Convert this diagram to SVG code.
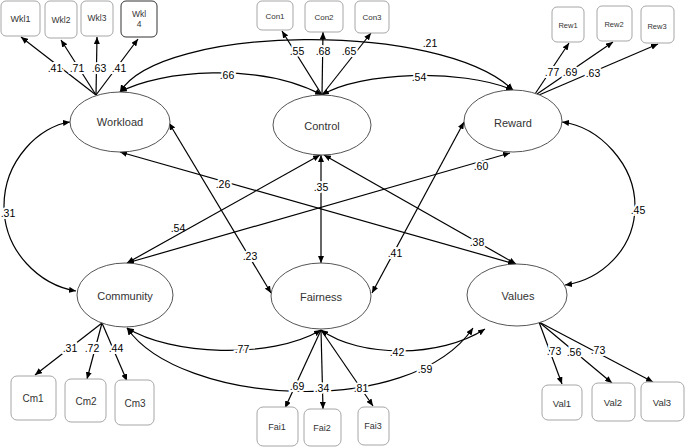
<svg xmlns="http://www.w3.org/2000/svg" width="685" height="447" viewBox="0 0 685 447">
<style>
.bg{fill:#fff}
.lat{fill:#fff;stroke:#555;stroke-width:1}
.box{fill:#fff;stroke:#a6a6a6;stroke-width:1}
.box.dark{stroke:#333}
.ln{fill:none;stroke:#000;stroke-width:1.2}
.one{marker-end:url(#ah)}
.two{marker-start:url(#ah);marker-end:url(#ah)}
.lt{font-family:"Liberation Sans","DejaVu Sans",sans-serif;font-size:11px;fill:#333;text-anchor:middle;dominant-baseline:central}
.bt{font-family:"Liberation Sans","DejaVu Sans",sans-serif;fill:#333;text-anchor:middle;dominant-baseline:central}
.lbl{font-family:"Liberation Sans","DejaVu Sans",sans-serif;font-size:10.5px;fill:#000;text-anchor:middle;dominant-baseline:central;stroke:#fff;stroke-width:4;paint-order:stroke}
.nh{stroke:none}
</style>
<defs>
<marker id="ah" viewBox="0 0 7 6" refX="7" refY="3" markerWidth="7" markerHeight="6" markerUnits="userSpaceOnUse" orient="auto-start-reverse">
<path d="M0,0 L7,3 L0,6 z" fill="#000"/>
</marker>
</defs>
<rect class="bg" x="0" y="0" width="685" height="447"/>

<g id="connectors">
<!-- indicator loadings -->
<line class="ln one" x1="96" y1="95" x2="21" y2="37"/>
<line class="ln one" x1="96" y1="95" x2="61" y2="40"/>
<line class="ln one" x1="96" y1="95" x2="97" y2="37"/>
<line class="ln one" x1="96" y1="95" x2="138" y2="39"/>
<line class="ln one" x1="322" y1="95" x2="282" y2="31"/>
<line class="ln one" x1="322" y1="95" x2="323" y2="32"/>
<line class="ln one" x1="322" y1="95" x2="371" y2="33"/>
<line class="ln one" x1="535" y1="94" x2="569" y2="43"/>
<line class="ln one" x1="537" y1="94" x2="613" y2="42"/>
<line class="ln one" x1="539" y1="95" x2="658" y2="44"/>
<line class="ln one" x1="102" y1="323" x2="35" y2="375"/>
<line class="ln one" x1="102" y1="323" x2="87" y2="379"/>
<line class="ln one" x1="102" y1="323" x2="127" y2="381"/>
<line class="ln one" x1="321" y1="330" x2="285" y2="408"/>
<line class="ln one" x1="321" y1="330" x2="323" y2="409"/>
<line class="ln one" x1="321" y1="330" x2="373" y2="406"/>
<line class="ln one" x1="539" y1="322" x2="562" y2="384"/>
<line class="ln one" x1="539" y1="322" x2="612" y2="383"/>
<line class="ln one" x1="539" y1="322" x2="653" y2="382"/>
<!-- covariances -->
<path class="ln two" d="M120,92 C160,25 440,20 513,90"/>
<path class="ln two" d="M120,92 C160,70 260,62 322,95"/>
<path class="ln two" d="M322,95 C360,72 460,68 513,90"/>
<path class="ln two" d="M70,122 C40,126 4,160 4,206 C4,252 40,285 76,291"/>
<path class="ln two" d="M562,122 C600,127 635,165 635,206 C635,250 600,280 565,285"/>
<line class="ln two" x1="120" y1="152" x2="515" y2="264"/>
<line class="ln two" x1="324" y1="155" x2="516" y2="264"/>
<line class="ln two" x1="169" y1="123" x2="271" y2="293"/>
<line class="ln two" x1="464" y1="122" x2="372" y2="293"/>
<line class="ln two" x1="127" y1="263" x2="320" y2="155"/>
<line class="ln two" x1="127" y1="263" x2="510" y2="153"/>
<line class="ln two" x1="321" y1="155" x2="321" y2="263"/>
<path class="ln two" d="M127,328 C170,355 270,360 321,330"/>
<path class="ln two" d="M127,328 C180,405 410,420 473,328"/>
<path class="ln two" d="M321,330 C360,358 440,358 485,329"/>
<!-- labels -->
<text class="lbl" x="55" y="68">.41</text>
<text class="lbl" x="77" y="68">.71</text>
<text class="lbl" x="99" y="68">.63</text>
<text class="lbl" x="119" y="68">.41</text>
<text class="lbl" x="297" y="51">.55</text>
<text class="lbl" x="323" y="51">.68</text>
<text class="lbl" x="349" y="51">.65</text>
<text class="lbl" x="552" y="72">.77</text>
<text class="lbl" x="570" y="72">.69</text>
<text class="lbl" x="593" y="73">.63</text>
<text class="lbl" x="70" y="348">.31</text>
<text class="lbl" x="92" y="348">.72</text>
<text class="lbl" x="116" y="348">.44</text>
<text class="lbl" x="297" y="386">.69</text>
<text class="lbl" x="322" y="388">.34</text>
<text class="lbl" x="361" y="388">.81</text>
<text class="lbl" x="554" y="351">.73</text>
<text class="lbl" x="574" y="352">.56</text>
<text class="lbl" x="598" y="350">.73</text>
<text class="lbl" x="227" y="75">.66</text>
<text class="lbl" x="419" y="77">.54</text>
<text class="lbl nh" x="430" y="43">.21</text>
<text class="lbl" x="8" y="213">.31</text>
<text class="lbl" x="638" y="210">.45</text>
<text class="lbl" x="223" y="184">.26</text>
<text class="lbl" x="321" y="187">.35</text>
<text class="lbl" x="481" y="166">.60</text>
<text class="lbl nh" x="178" y="228">.54</text>
<text class="lbl" x="250" y="256">.23</text>
<text class="lbl" x="395" y="253">.41</text>
<text class="lbl" x="477" y="242">.38</text>
<text class="lbl" x="242" y="349">.77</text>
<text class="lbl" x="397" y="352">.42</text>
<text class="lbl" x="425" y="369">.59</text>
</g>

<g id="Workload"><ellipse class="lat" cx="120" cy="122" rx="50" ry="30"/><text class="lt" x="120" y="122">Workload</text></g>
<g id="Control"><ellipse class="lat" cx="322" cy="125" rx="49" ry="30"/><text class="lt" x="322" y="126">Control</text></g>
<g id="Reward"><ellipse class="lat" cx="513" cy="121" rx="49" ry="31"/><text class="lt" x="513" y="123">Reward</text></g>
<g id="Community"><ellipse class="lat" cx="125" cy="295" rx="48" ry="32"/><text class="lt" x="125" y="296">Community</text></g>
<g id="Fairness"><ellipse class="lat" cx="321" cy="296" rx="50" ry="33"/><text class="lt" x="321" y="297">Fairness</text></g>
<g id="Values"><ellipse class="lat" cx="517" cy="295" rx="50" ry="31"/><text class="lt" x="518" y="296">Values</text></g>

<g id="Wkl1"><rect class="box" x="1" y="1" width="39" height="35" rx="5"/><text class="bt" x="20.5" y="19" font-size="9">Wkl1</text></g>
<g id="Wkl2"><rect class="box" x="45" y="1" width="32" height="37" rx="5"/><text class="bt" x="61" y="20" font-size="8.5">Wkl2</text></g>
<g id="Wkl3"><rect class="box" x="81" y="1" width="32" height="35" rx="5"/><text class="bt" x="97" y="18" font-size="8.5">Wkl3</text></g>
<g id="Wkl4"><rect class="box dark" x="121" y="1" width="36" height="36" rx="5"/><text class="bt" x="139" y="14" font-size="8.5">Wkl</text><text class="bt" x="139" y="24" font-size="8.5">4</text></g>
<g id="Con1"><rect class="box" x="257" y="1" width="36" height="29" rx="5"/><text class="bt" x="275" y="16" font-size="8">Con1</text></g>
<g id="Con2"><rect class="box" x="305" y="1" width="38" height="31" rx="5"/><text class="bt" x="324" y="17" font-size="8">Con2</text></g>
<g id="Con3"><rect class="box" x="355" y="1" width="34" height="32" rx="5"/><text class="bt" x="372" y="17" font-size="8">Con3</text></g>
<g id="Rew1"><rect class="box" x="552" y="7" width="32" height="35" rx="5"/><text class="bt" x="568" y="25" font-size="7.5">Rew1</text></g>
<g id="Rew2"><rect class="box" x="597" y="6" width="35" height="35" rx="5"/><text class="bt" x="614" y="24" font-size="7.5">Rew2</text></g>
<g id="Rew3"><rect class="box" x="641" y="6" width="33" height="37" rx="5"/><text class="bt" x="657" y="26" font-size="7.5">Rew3</text></g>
<g id="Cm1"><rect class="box" x="11" y="376" width="45" height="44" rx="6"/><text class="bt" x="33" y="398" font-size="10">Cm1</text></g>
<g id="Cm2"><rect class="box" x="65" y="379" width="41" height="43" rx="6"/><text class="bt" x="86" y="401" font-size="10">Cm2</text></g>
<g id="Cm3"><rect class="box" x="115" y="380" width="39" height="45" rx="6"/><text class="bt" x="135" y="403" font-size="10">Cm3</text></g>
<g id="Fai1"><rect class="box" x="257" y="407" width="41" height="39" rx="6"/><text class="bt" x="277" y="427" font-size="9">Fai1</text></g>
<g id="Fai2"><rect class="box" x="304" y="409" width="37" height="37" rx="6"/><text class="bt" x="322" y="428" font-size="9">Fai2</text></g>
<g id="Fai3"><rect class="box" x="358" y="407" width="31" height="38" rx="6"/><text class="bt" x="373" y="426" font-size="9">Fai3</text></g>
<g id="Val1"><rect class="box" x="542" y="385" width="40" height="35" rx="6"/><text class="bt" x="562" y="403" font-size="9.5">Val1</text></g>
<g id="Val2"><rect class="box" x="592" y="383" width="43" height="38" rx="6"/><text class="bt" x="613" y="402" font-size="9.5">Val2</text></g>
<g id="Val3"><rect class="box" x="641" y="382" width="43" height="39" rx="6"/><text class="bt" x="662" y="402" font-size="9.5">Val3</text></g>
</svg>
